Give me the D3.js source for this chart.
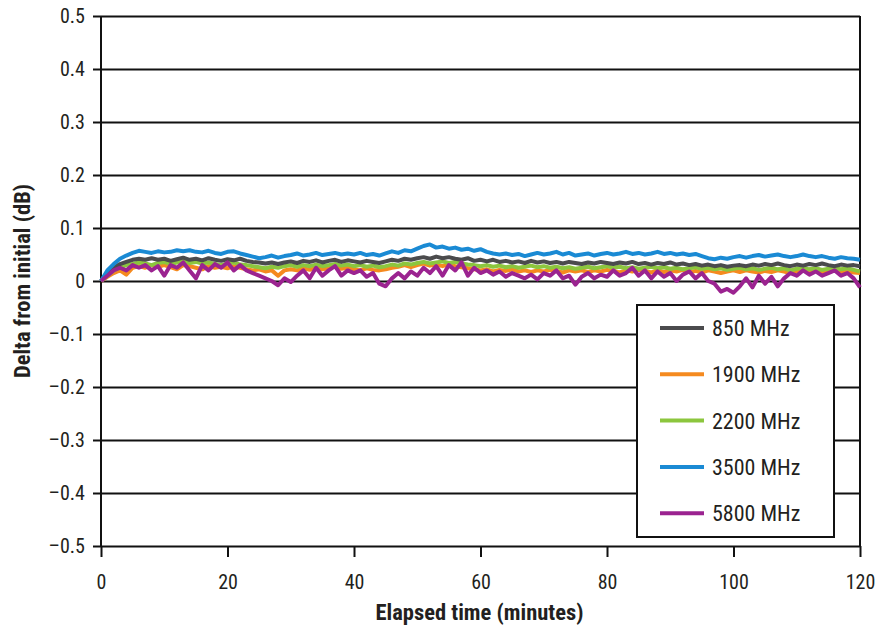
<!DOCTYPE html>
<html>
<head>
<meta charset="utf-8">
<script src="https://cdn.jsdelivr.net/npm/d3@7"></script>
<style>
  body { margin: 0; background: #fff; }
  text { font-family: "Liberation Sans Narrow", "Roboto Condensed", "DejaVu Sans Condensed", Arial, sans-serif; fill: #231f20; }
</style>
</head>
<body>
<svg width="891" height="633"></svg>
<script>
// minutes 0..120, one reading per minute
const minutes = d3.range(0, 121);

const s850 = [0, 0.015, 0.025, 0.032, 0.036, 0.04, 0.042, 0.04, 0.043, 0.04, 0.042, 0.038, 0.041, 0.044, 0.04, 0.042, 0.039, 0.043, 0.04, 0.038,
  0.041, 0.039, 0.042, 0.038, 0.036, 0.035, 0.033, 0.035, 0.032, 0.035, 0.037, 0.034, 0.038, 0.036, 0.039, 0.035, 0.038, 0.04, 0.036, 0.039,
  0.037, 0.035, 0.038, 0.036, 0.034, 0.037, 0.04, 0.038, 0.042, 0.04, 0.043, 0.045, 0.042, 0.046, 0.043, 0.045, 0.042, 0.04, 0.043, 0.038,
  0.04, 0.037, 0.04, 0.036, 0.038, 0.035, 0.037, 0.034, 0.038, 0.035, 0.037, 0.034, 0.036, 0.033, 0.036, 0.034, 0.032, 0.035, 0.033, 0.036,
  0.034, 0.032, 0.035, 0.033, 0.036, 0.032, 0.034, 0.031, 0.034, 0.032, 0.035, 0.031, 0.033, 0.03, 0.032, 0.029, 0.031, 0.028, 0.03, 0.027,
  0.029, 0.03, 0.028, 0.031, 0.029, 0.032, 0.03, 0.033, 0.03, 0.028, 0.031, 0.029, 0.032, 0.03, 0.033, 0.03, 0.028, 0.031, 0.029, 0.03, 0.028];

const s1900 = [0, 0.008, 0.015, 0.02, 0.012, 0.025, 0.028, 0.025, 0.03, 0.027, 0.03, 0.026, 0.022, 0.03, 0.028, 0.025, 0.022, 0.028, 0.025, 0.027,
  0.024, 0.028, 0.025, 0.022, 0.02, 0.022, 0.018, 0.02, 0.01, 0.02, 0.022, 0.02, 0.024, 0.021, 0.025, 0.022, 0.024, 0.028, 0.023, 0.025,
  0.022, 0.02, 0.024, 0.021, 0.02, 0.022, 0.025, 0.027, 0.03, 0.026, 0.03, 0.033, 0.029, 0.031, 0.028, 0.032, 0.028, 0.026, 0.024, 0.022,
  0.02, 0.022, 0.018, 0.021, 0.019, 0.022, 0.018, 0.02, 0.017, 0.02, 0.018, 0.021, 0.019, 0.016, 0.02, 0.018, 0.02, 0.017, 0.02, 0.018,
  0.021, 0.019, 0.016, 0.02, 0.018, 0.021, 0.019, 0.016, 0.02, 0.017, 0.02, 0.018, 0.021, 0.017, 0.019, 0.016, 0.02, 0.018, 0.015, 0.018,
  0.02, 0.017, 0.02, 0.018, 0.016, 0.019, 0.017, 0.02, 0.018, 0.015, 0.018, 0.02, 0.017, 0.019, 0.016, 0.018, 0.02, 0.017, 0.019, 0.016, 0.015];

const s2200 = [0, 0.01, 0.02, 0.025, 0.03, 0.032, 0.035, 0.033, 0.03, 0.034, 0.036, 0.032, 0.035, 0.038, 0.034, 0.036, 0.033, 0.035, 0.032, 0.03,
  0.033, 0.035, 0.031, 0.03, 0.028, 0.026, 0.024, 0.027, 0.025, 0.028, 0.03, 0.027, 0.03, 0.028, 0.031, 0.028, 0.03, 0.032, 0.029, 0.031,
  0.028, 0.03, 0.027, 0.029, 0.026, 0.028, 0.031, 0.029, 0.033, 0.031, 0.034, 0.036, 0.033, 0.035, 0.037, 0.034, 0.036, 0.033, 0.031, 0.03,
  0.028, 0.03, 0.027, 0.029, 0.026, 0.028, 0.025, 0.027, 0.029, 0.026, 0.028, 0.025, 0.027, 0.024, 0.026, 0.023, 0.025, 0.027, 0.024, 0.026,
  0.028, 0.025, 0.027, 0.024, 0.026, 0.023, 0.025, 0.027, 0.024, 0.026, 0.023, 0.025, 0.022, 0.024, 0.026, 0.023, 0.025, 0.022, 0.024, 0.021,
  0.023, 0.025, 0.022, 0.024, 0.021, 0.023, 0.025, 0.022, 0.024, 0.02, 0.023, 0.025, 0.022, 0.024, 0.021, 0.023, 0.025, 0.022, 0.024, 0.021, 0.018];

const s3500 = [0, 0.02, 0.032, 0.042, 0.048, 0.053, 0.057, 0.055, 0.053, 0.056, 0.054, 0.055, 0.058, 0.056, 0.058, 0.055, 0.054, 0.057, 0.053, 0.051,
  0.055, 0.056, 0.052, 0.049, 0.046, 0.043, 0.045, 0.048, 0.044, 0.047, 0.049, 0.052, 0.048, 0.05, 0.053, 0.049, 0.051, 0.053, 0.05, 0.052,
  0.05, 0.053, 0.049, 0.051, 0.048, 0.052, 0.056, 0.053, 0.058, 0.056, 0.061, 0.066, 0.069, 0.063, 0.065, 0.061, 0.063, 0.059, 0.061, 0.057,
  0.06, 0.055, 0.052, 0.05, 0.052, 0.049, 0.051, 0.047, 0.05, 0.053, 0.05, 0.052, 0.055, 0.05, 0.053, 0.048, 0.05, 0.052, 0.048, 0.051,
  0.053, 0.05, 0.052, 0.055, 0.051, 0.053, 0.05, 0.052, 0.055, 0.051, 0.053, 0.05, 0.052, 0.049, 0.051, 0.047, 0.043, 0.041, 0.044, 0.042,
  0.045, 0.047, 0.044, 0.047, 0.049, 0.046, 0.048, 0.05, 0.047, 0.045, 0.047, 0.05, 0.047, 0.045, 0.047, 0.044, 0.042, 0.045, 0.043, 0.042, 0.04];

const s5800 = [0, 0.01, 0.02, 0.025, 0.02, 0.03, 0.025, 0.03, 0.02, 0.028, 0.01, 0.03, 0.025, 0.035, 0.02, 0.005, 0.03, 0.02, 0.032, 0.025,
  0.035, 0.02, 0.03, 0.02, 0.015, 0.01, 0.005, 0, -0.008, 0.005, -0.002, 0.01, 0.02, 0.005, 0.025, 0.01, 0.02, 0.028, 0.01, 0.02,
  0.015, 0.02, 0.008, 0.015, -0.005, -0.01, 0.005, 0.015, 0.005, 0.018, 0.01, 0.025, 0.015, 0.028, 0.01, 0.03, 0.02, 0.035, 0.01, 0.025,
  0.015, 0.02, 0.012, 0.018, 0.008, 0.015, 0.01, 0.005, 0.012, 0.003, 0.015, 0.01, 0.02, 0.005, 0.01, -0.007, 0.008, 0.015, 0.005, 0.012,
  0.008, 0.02, 0.01, 0.015, 0.025, 0.01, 0.02, 0.005, 0.018, 0.008, 0.015, 0, 0.012, 0.018, 0.005, 0.015, 0, -0.005, -0.02, -0.015,
  -0.022, -0.01, 0.005, -0.012, 0.01, -0.005, 0.008, -0.01, 0.005, 0.015, 0.01, 0.02, 0.012, 0.018, 0.01, 0.015, 0.02, 0.01, 0.015, 0.005, -0.012];

const seriesNames = ["850 MHz", "1900 MHz", "2200 MHz", "3500 MHz", "5800 MHz"];
const seriesColors = ["#4b4b4d", "#f58a1f", "#8cc63e", "#1a8ad4", "#9b2390"];
const seriesValues = [s850, s1900, s2200, s3500, s5800];
const drawOrder = [1, 2, 0, 3, 4];

const xTicks = [0, 20, 40, 60, 80, 100, 120];
const yTicks = [-0.5, -0.4, -0.3, -0.2, -0.1, 0, 0.1, 0.2, 0.3, 0.4, 0.5];

const svg = d3.select("svg");
const plotLeft = 101, plotRight = 860, plotTop = 16, plotBottom = 546;

const x = d3.scaleLinear().domain([0, 120]).range([plotLeft, plotRight]);
const y = d3.scaleLinear().domain([-0.5, 0.5]).range([plotBottom, plotTop]);

const fmtY = d => d === 0 ? "0" : (d < 0 ? "\u2013" : "") + Math.abs(d).toFixed(1);

// horizontal grid lines with left ticks
svg.append("g")
  .attr("transform", `translate(${plotLeft},0)`)
  .call(d3.axisLeft(y).tickValues(yTicks).tickSize(8).tickFormat(fmtY))
  .call(g => g.select(".domain").remove())
  .call(g => g.selectAll(".tick line").clone()
    .attr("x2", plotRight - plotLeft))
  .call(g => g.selectAll(".tick line").attr("stroke", "#111").attr("stroke-width", 2))
  .call(g => g.selectAll(".tick text").attr("x", -16).attr("font-size", 20).attr("fill", "#231f20"));

// bottom axis
svg.append("g")
  .attr("transform", `translate(0,${plotBottom})`)
  .call(d3.axisBottom(x).tickValues(xTicks).tickSize(11).tickFormat(d3.format("d")))
  .call(g => g.select(".domain").remove())
  .call(g => g.selectAll(".tick line").attr("stroke", "#111").attr("stroke-width", 2))
  .call(g => g.selectAll(".tick text").attr("y", 29).attr("dy", "0.71em").attr("font-size", 20).attr("fill", "#231f20"));

// left and right frame
svg.append("line").attr("x1", plotLeft).attr("x2", plotLeft).attr("y1", plotTop).attr("y2", plotBottom)
  .attr("stroke", "#111").attr("stroke-width", 2);
svg.append("line").attr("x1", plotRight).attr("x2", plotRight).attr("y1", plotTop).attr("y2", plotBottom)
  .attr("stroke", "#111").attr("stroke-width", 2);

const line = d3.line()
  .x((d, i) => x(minutes[i]))
  .y(d => y(d));

drawOrder.forEach(k => {
  svg.append("path")
    .datum(seriesValues[k])
    .attr("fill", "none")
    .attr("stroke", seriesColors[k])
    .attr("stroke-width", 4)
    .attr("stroke-linejoin", "round")
    .attr("d", line);
});

// legend
const lg = svg.append("g").attr("transform", "translate(637,305)");
lg.append("rect").attr("width", 197).attr("height", 232)
  .attr("fill", "#fff").attr("stroke", "#111").attr("stroke-width", 2);
seriesNames.forEach((name, i) => {
  const yy = 23 + i * 46.3;
  lg.append("line").attr("x1", 23).attr("x2", 67).attr("y1", yy).attr("y2", yy)
    .attr("stroke", seriesColors[i]).attr("stroke-width", 4);
  lg.append("text").attr("x", 75).attr("y", yy).attr("dy", "0.36em")
    .attr("font-size", 22).text(name);
});

// axis titles
svg.append("text")
  .attr("x", (plotLeft + plotRight) / 2 - 1).attr("y", 612).attr("dy", "0.36em")
  .attr("text-anchor", "middle").attr("font-size", 22.5).attr("font-weight", "bold")
  .text("Elapsed time (minutes)");

svg.append("text")
  .attr("transform", `translate(22,${y(0)}) rotate(-90)`)
  .attr("dy", "0.36em")
  .attr("text-anchor", "middle").attr("font-size", 22.5).attr("font-weight", "bold")
  .text("Delta from initial (dB)");
</script>
</body>
</html>
